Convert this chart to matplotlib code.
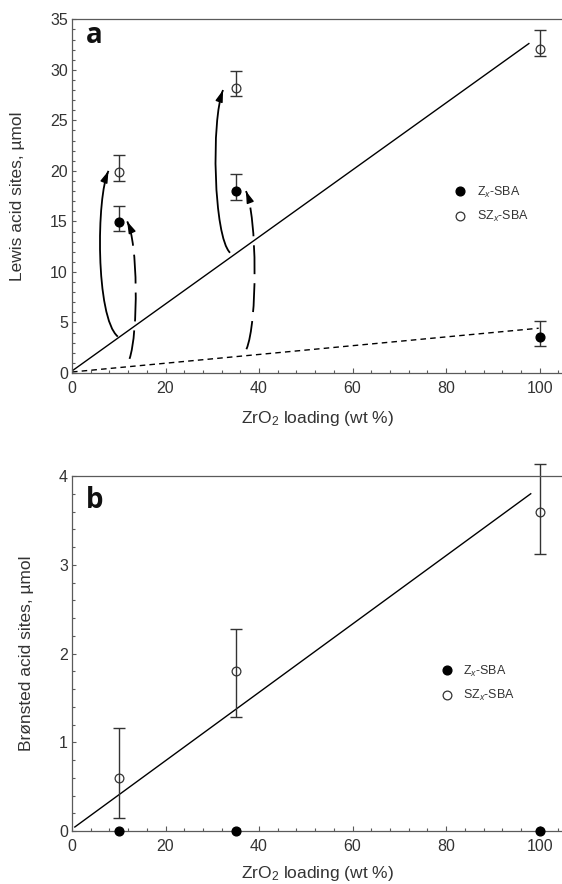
import numpy as np
import matplotlib
matplotlib.use('Agg')
import matplotlib.pyplot as plt
from matplotlib.ticker import MultipleLocator
from matplotlib.patches import FancyArrowPatch, PathPatch
from matplotlib.path import Path

plt.rcParams['font.family'] = ['Liberation Sans', 'DejaVu Sans']
plt.rcParams['mathtext.fontset'] = 'custom'
plt.rcParams['mathtext.rm'] = 'Liberation Sans'
plt.rcParams['mathtext.it'] = 'Liberation Sans:italic'

# ZrO2 loading (wt %)
loading = [10, 35, 100]

# a: Lewis acid sites (umol), errors given as lower / upper ends of the bars
lewis_z = [14.9, 17.97, 3.54]
lewis_z_lo = [14.04, 17.15, 2.68]
lewis_z_hi = [16.55, 19.72, 5.18]
lewis_sz = [19.85, 28.18, 32.1]
lewis_sz_lo = [19.0, 27.38, 31.35]
lewis_sz_hi = [21.56, 29.9, 33.9]

# b: Bronsted acid sites (umol)
bron_z = [0, 0, 0]
bron_sz = [0.60, 1.80, 3.60]
bron_sz_lo = [0.15, 1.28, 3.12]
bron_sz_hi = [1.16, 2.28, 4.13]

# trend lines (end points)
fit_lewis_sz_x = [0.3, 97.7]
fit_lewis_sz_y = [0.3, 32.6]
fit_lewis_z_x = [0.0, 99.8]
fit_lewis_z_y = [0.1, 4.43]
fit_bron_sz_x = [0.6, 98.1]
fit_bron_sz_y = [0.045, 3.8]

ink = '#333333'
spine_c = '#5a5a5a'

fig = plt.figure(figsize=(5.62, 8.84), dpi=100)
ax1 = fig.add_axes([72/562, (884-373)/884, 491/562, 353.7/884])
ax2 = fig.add_axes([72/562, (884-831)/884, 491/562, 355/884])


def style(ax, ymaj, ymin):
    ax.set_xlim(0, 105)
    ax.xaxis.set_major_locator(MultipleLocator(20))
    ax.xaxis.set_minor_locator(MultipleLocator(4))
    ax.yaxis.set_major_locator(MultipleLocator(ymaj))
    ax.yaxis.set_minor_locator(MultipleLocator(ymin))
    ax.spines['right'].set_visible(False)
    for s in ['top', 'left', 'bottom']:
        ax.spines[s].set_color(spine_c)
        ax.spines[s].set_linewidth(0.9)
    ax.tick_params(which='both', direction='in', top=False, right=False,
                   color=spine_c, width=0.8, labelcolor=ink, labelsize=11.5)
    ax.tick_params(axis='x', which='major', length=3.4, pad=6)
    ax.tick_params(axis='x', which='minor', length=2.0)
    ax.tick_params(axis='y', which='major', length=3.0, pad=3)
    ax.tick_params(axis='y', which='minor', length=1.8)
    ax.set_xlabel('ZrO$_2$ loading (wt %)', fontsize=12.5, color=ink)


def err(lo, hi, v):
    return [np.array(v) - np.array(lo), np.array(hi) - np.array(v)]


def bez(pts, t):
    p = np.array(pts)
    return ((1-t)**3*p[0] + 3*(1-t)**2*t*p[1] + 3*(1-t)*t**2*p[2] + t**3*p[3])


# ---- panel a ----
style(ax1, 5, 1)
ax1.set_ylim(0, 35)
ax1.plot(fit_lewis_sz_x, fit_lewis_sz_y, color='black', lw=1.0)
ax1.plot(fit_lewis_z_x, fit_lewis_z_y, color='black', lw=1.0, linestyle=(0, (4, 3)))
ax1.errorbar(loading, lewis_z, yerr=err(lewis_z_lo, lewis_z_hi, lewis_z), fmt='none',
             ecolor=ink, elinewidth=1.0, capsize=4, capthick=1.0)
ax1.errorbar(loading, lewis_sz, yerr=err(lewis_sz_lo, lewis_sz_hi, lewis_sz), fmt='none',
             ecolor=ink, elinewidth=1.0, capsize=4, capthick=1.0)
ax1.plot(loading, lewis_z, 'o', color='black', ms=6.3, ls='none', label='Z$_x$-SBA')
ax1.plot(loading, lewis_sz, 'o', mfc='none', mec=ink, mew=0.9, ms=6.3, ls='none',
         label='SZ$_x$-SBA')

# curved arrows (annotation paths in data units)
arrows = [
    ([(9.8, 3.6), (5.0, 5.5), (5.2, 17.5), (7.8, 20.0)], '-'),
    ([(12.3, 1.4), (14.2, 4.0), (14.1, 13.0), (11.8, 15.0)], (0, (16, 5))),
    ([(33.8, 11.9), (30.3, 13.5), (29.7, 25.0), (32.3, 28.0)], '-'),
    ([(37.3, 2.35), (39.7, 5.0), (39.6, 15.5), (37.2, 18.0)], (0, (16, 5))),
]
for pts, ls in arrows:
    p = Path(pts, [Path.MOVETO, Path.CURVE4, Path.CURVE4, Path.CURVE4])
    ax1.add_patch(PathPatch(p, fill=False, edgecolor='black', lw=1.3, linestyle=ls,
                            capstyle='butt'))
    head = FancyArrowPatch(posA=tuple(bez(pts, 0.96)), posB=pts[-1],
                           arrowstyle='-|>,head_length=0.7,head_width=0.22',
                           mutation_scale=10, color='black', lw=1.0,
                           shrinkA=0, shrinkB=0)
    ax1.add_patch(head)

ax1.set_ylabel('Lewis acid sites, µmol', fontsize=12.5, color=ink)
ax1.yaxis.set_label_coords((25-72)/491, 0.5)
ax1.xaxis.set_label_coords(0.5, -36/353.7)
ax1.text(14/491, 1 - 24/353.7, 'a', transform=ax1.transAxes, ha='left', va='baseline',
         fontsize=20, fontweight='bold', family=['Open Sans', 'DejaVu Sans'], color='#111111')
ax1.legend(loc='center left', bbox_to_anchor=(81.7, 16.66), bbox_transform=ax1.transData,
           frameon=False, fontsize=9, handlelength=1.0, handletextpad=0.8,
           borderpad=0, borderaxespad=0, labelspacing=0.75, labelcolor=ink)

# ---- panel b ----
style(ax2, 1, 0.2)
ax2.set_ylim(0, 4)
ax2.plot(fit_bron_sz_x, fit_bron_sz_y, color='black', lw=1.0)
ax2.errorbar(loading, bron_sz, yerr=err(bron_sz_lo, bron_sz_hi, bron_sz), fmt='none',
             ecolor=ink, elinewidth=1.0, capsize=4, capthick=1.0, clip_on=False)
ax2.plot(loading, bron_z, 'o', color='black', ms=6.3, ls='none', label='Z$_x$-SBA',
         clip_on=False, zorder=5)
ax2.plot(loading, bron_sz, 'o', mfc='none', mec=ink, mew=0.9, ms=6.3, ls='none',
         label='SZ$_x$-SBA')
ax2.set_ylabel('Brønsted acid sites, µmol', fontsize=12.5, color=ink)
ax2.yaxis.set_label_coords((34-72)/491, 0.5)
ax2.xaxis.set_label_coords(0.5, -33/355)
ax2.text(14/491, 1 - 31.7/355, 'b', transform=ax2.transAxes, ha='left', va='baseline',
         fontsize=20, fontweight='bold', family=['Open Sans', 'DejaVu Sans'], color='#111111')
ax2.legend(loc='center left', bbox_to_anchor=(78.8, 1.664), bbox_transform=ax2.transData,
           frameon=False, fontsize=9, handlelength=1.0, handletextpad=0.8,
           borderpad=0, borderaxespad=0, labelspacing=0.75, labelcolor=ink)

fig.savefig('out.png', dpi=100)
